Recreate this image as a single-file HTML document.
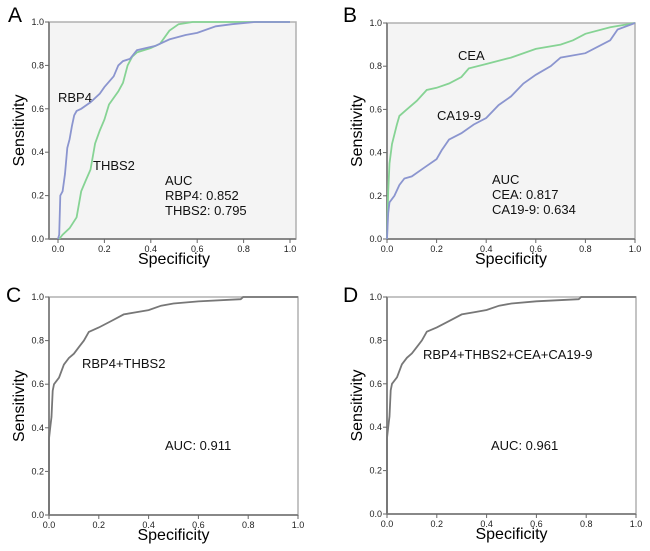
<!DOCTYPE html>
<html><head><meta charset="utf-8"><style>
body{margin:0;background:#fff;}
svg{display:block;font-family:"Liberation Sans",Arial,sans-serif;}
</style></head><body>
<svg id="fig" width="650" height="551" viewBox="0 0 650 551"></svg>
<script>
// Panel A data
const aRbp4X = [0,0.005,0.01,0.02,0.03,0.04,0.05,0.06,0.07,0.08,0.1,0.14,0.18,0.2,0.24,0.26,0.28,0.31,0.34,0.38,0.42,0.48,0.55,0.6,0.68,0.75,0.85,1];
const aRbp4Y = [0,0.02,0.2,0.22,0.3,0.42,0.46,0.52,0.57,0.59,0.6,0.63,0.67,0.7,0.75,0.8,0.82,0.83,0.87,0.88,0.89,0.92,0.94,0.95,0.98,0.99,1,1];
const aThbs2X = [0.005,0.02,0.05,0.08,0.1,0.12,0.14,0.16,0.18,0.2,0.22,0.26,0.28,0.3,0.32,0.34,0.4,0.44,0.48,0.52,0.58,1];
const aThbs2Y = [0,0.02,0.05,0.1,0.22,0.27,0.32,0.44,0.5,0.55,0.62,0.68,0.72,0.8,0.84,0.86,0.88,0.9,0.96,0.99,1,1];
// Panel B data
const bCeaX = [0,0.005,0.01,0.02,0.04,0.05,0.08,0.12,0.16,0.2,0.25,0.3,0.33,0.4,0.5,0.6,0.7,0.75,0.8,0.9,1];
const bCeaY = [0,0.22,0.35,0.44,0.53,0.57,0.6,0.64,0.69,0.7,0.72,0.75,0.79,0.81,0.84,0.88,0.9,0.92,0.95,0.98,1];
const bCa199X = [0,0.005,0.01,0.03,0.05,0.07,0.1,0.15,0.2,0.22,0.25,0.3,0.35,0.4,0.45,0.5,0.55,0.6,0.66,0.7,0.8,0.9,0.93,1];
const bCa199Y = [0,0.12,0.17,0.2,0.25,0.28,0.29,0.33,0.37,0.41,0.46,0.49,0.53,0.56,0.62,0.66,0.72,0.76,0.8,0.84,0.86,0.92,0.97,1];
// Panel C data
const cComboX = [0,0,0.005,0.01,0.015,0.02,0.04,0.06,0.08,0.1,0.12,0.14,0.16,0.2,0.25,0.3,0.35,0.4,0.45,0.5,0.6,0.77,0.78,1];
const cComboY = [0,0.35,0.4,0.45,0.57,0.6,0.63,0.69,0.72,0.74,0.77,0.8,0.84,0.86,0.89,0.92,0.93,0.94,0.96,0.97,0.98,0.99,1,1];
// Panel D data
const dComboX = [0,0,0.005,0.01,0.015,0.02,0.04,0.06,0.08,0.1,0.12,0.14,0.16,0.2,0.25,0.3,0.35,0.4,0.45,0.5,0.6,0.77,0.78,1];
const dComboY = [0,0.35,0.4,0.45,0.57,0.6,0.63,0.69,0.72,0.74,0.77,0.8,0.84,0.86,0.89,0.92,0.93,0.94,0.96,0.97,0.98,0.99,1,1];
const tickLabels = ["0.0","0.2","0.4","0.6","0.8","1.0"];
const tickVals = [0,0.2,0.4,0.6,0.8,1];

const NS="http://www.w3.org/2000/svg";
const svg=document.getElementById('fig');
function mk(tag,attrs,parent){const e=document.createElementNS(NS,tag);for(const k in attrs)e.setAttribute(k,attrs[k]);(parent||svg).appendChild(e);return e;}
function txt(s,attrs,parent){const e=mk('text',attrs,parent);e.textContent=s;return e;}

function panel(p){
  const g=mk('g',{});
  
  
  const sx=v=>p.x0+v*(p.x1-p.x0), sy=v=>p.y0-v*(p.y0-p.y1);
  const bg=mk('rect',{x:p.bl,y:p.y1,width:p.br-p.bl,height:p.y0-p.y1,fill:p.bg,stroke:'#b0b0b0','stroke-width':1.5},g);
  
  
  mk('line',{x1:p.bl,y1:p.y1,x2:p.bl,y2:p.y0,stroke:'#888','stroke-width':2},g);
  mk('line',{x1:p.bl,y1:p.y0,x2:p.br,y2:p.y0,stroke:'#888','stroke-width':2},g);
  tickVals.forEach((v,i)=>{
    mk('line',{x1:p.bl-4,y1:sy(v),x2:p.bl,y2:sy(v),stroke:'#666'},g);
    const yl=txt(tickLabels[i],{x:p.bl-5,y:sy(v)+3,'font-size':9,'text-anchor':'end',fill:'#222'},g);
    
    
    mk('line',{x1:sx(v),y1:p.y0,x2:sx(v),y2:p.y0+4,stroke:'#666'},g);
    const xl=txt(tickLabels[i],{x:sx(v),y:p.y0+13,'font-size':9,'text-anchor':'middle',fill:'#222'},g);
    
    
  });
  p.series.forEach(s=>{
    const d=s.xs.map((x,i)=>(i?'L':'M')+sx(x).toFixed(1)+','+sy(s.ys[i]).toFixed(1)).join('');
    const path=mk('path',{d:d,fill:'none',stroke:s.color,'stroke-width':1.8},g);
    
    
  });
  const L=txt(p.id,{x:p.lx,y:p.ly,'font-size':21,fill:'#000'},g);
  
  
  const yt=txt('Sensitivity',{x:0,y:0,'font-size':16,'text-anchor':'middle',transform:`translate(${p.bl-25},${(p.y0+p.y1)/2}) rotate(-90)`},g);
  
  
  const xt=txt('Specificity',{x:(p.x0+p.x1)/2,y:p.y0+25,'font-size':16,'text-anchor':'middle'},g);
  
  
  p.notes.forEach(n=>{
    const t=txt(n[0],{x:n[1],y:n[2],'font-size':13,fill:'#111'},g);
    
    
  });
}
panel({id:'A',x0:58,x1:290,bl:49,br:296,y1:22,y0:239,bg:'#f4f4f4',lx:8,ly:22,
  series:[{xs:aThbs2X,ys:aThbs2Y,color:'#86d394',name:'thbs2-curve'},{xs:aRbp4X,ys:aRbp4Y,color:'#8b95cf',name:'rbp4-curve'}],
  notes:[['RBP4',58,102],['THBS2',93,170],['AUC',165,185],['RBP4: 0.852',165,200],['THBS2: 0.795',165,215]]});
panel({id:'B',x0:387,x1:635,bl:387,br:635,y1:23,y0:239,bg:'#f4f4f4',lx:343,ly:22,
  series:[{xs:bCeaX,ys:bCeaY,color:'#86d394',name:'cea-curve'},{xs:bCa199X,ys:bCa199Y,color:'#8b95cf',name:'ca19-9-curve'}],
  notes:[['CEA',458,60],['CA19-9',437,120],['AUC',492,184],['CEA: 0.817',492,199],['CA19-9: 0.634',492,214]]});
panel({id:'C',x0:49,x1:298,bl:49,br:298,y1:297,y0:515,bg:'#ffffff',lx:6,ly:302,
  series:[{xs:cComboX,ys:cComboY,color:'#777',name:'rbp4-thbs2-curve'}],
  notes:[['RBP4+THBS2',82,368],['AUC: 0.911',165,450]]});
panel({id:'D',x0:387,x1:636,bl:387,br:636,y1:297,y0:514,bg:'#ffffff',lx:343,ly:302,
  series:[{xs:dComboX,ys:dComboY,color:'#777',name:'combined-curve'}],
  notes:[['RBP4+THBS2+CEA+CA19-9',423,359],['AUC: 0.961',491,450]]});
</script>
</body></html>
